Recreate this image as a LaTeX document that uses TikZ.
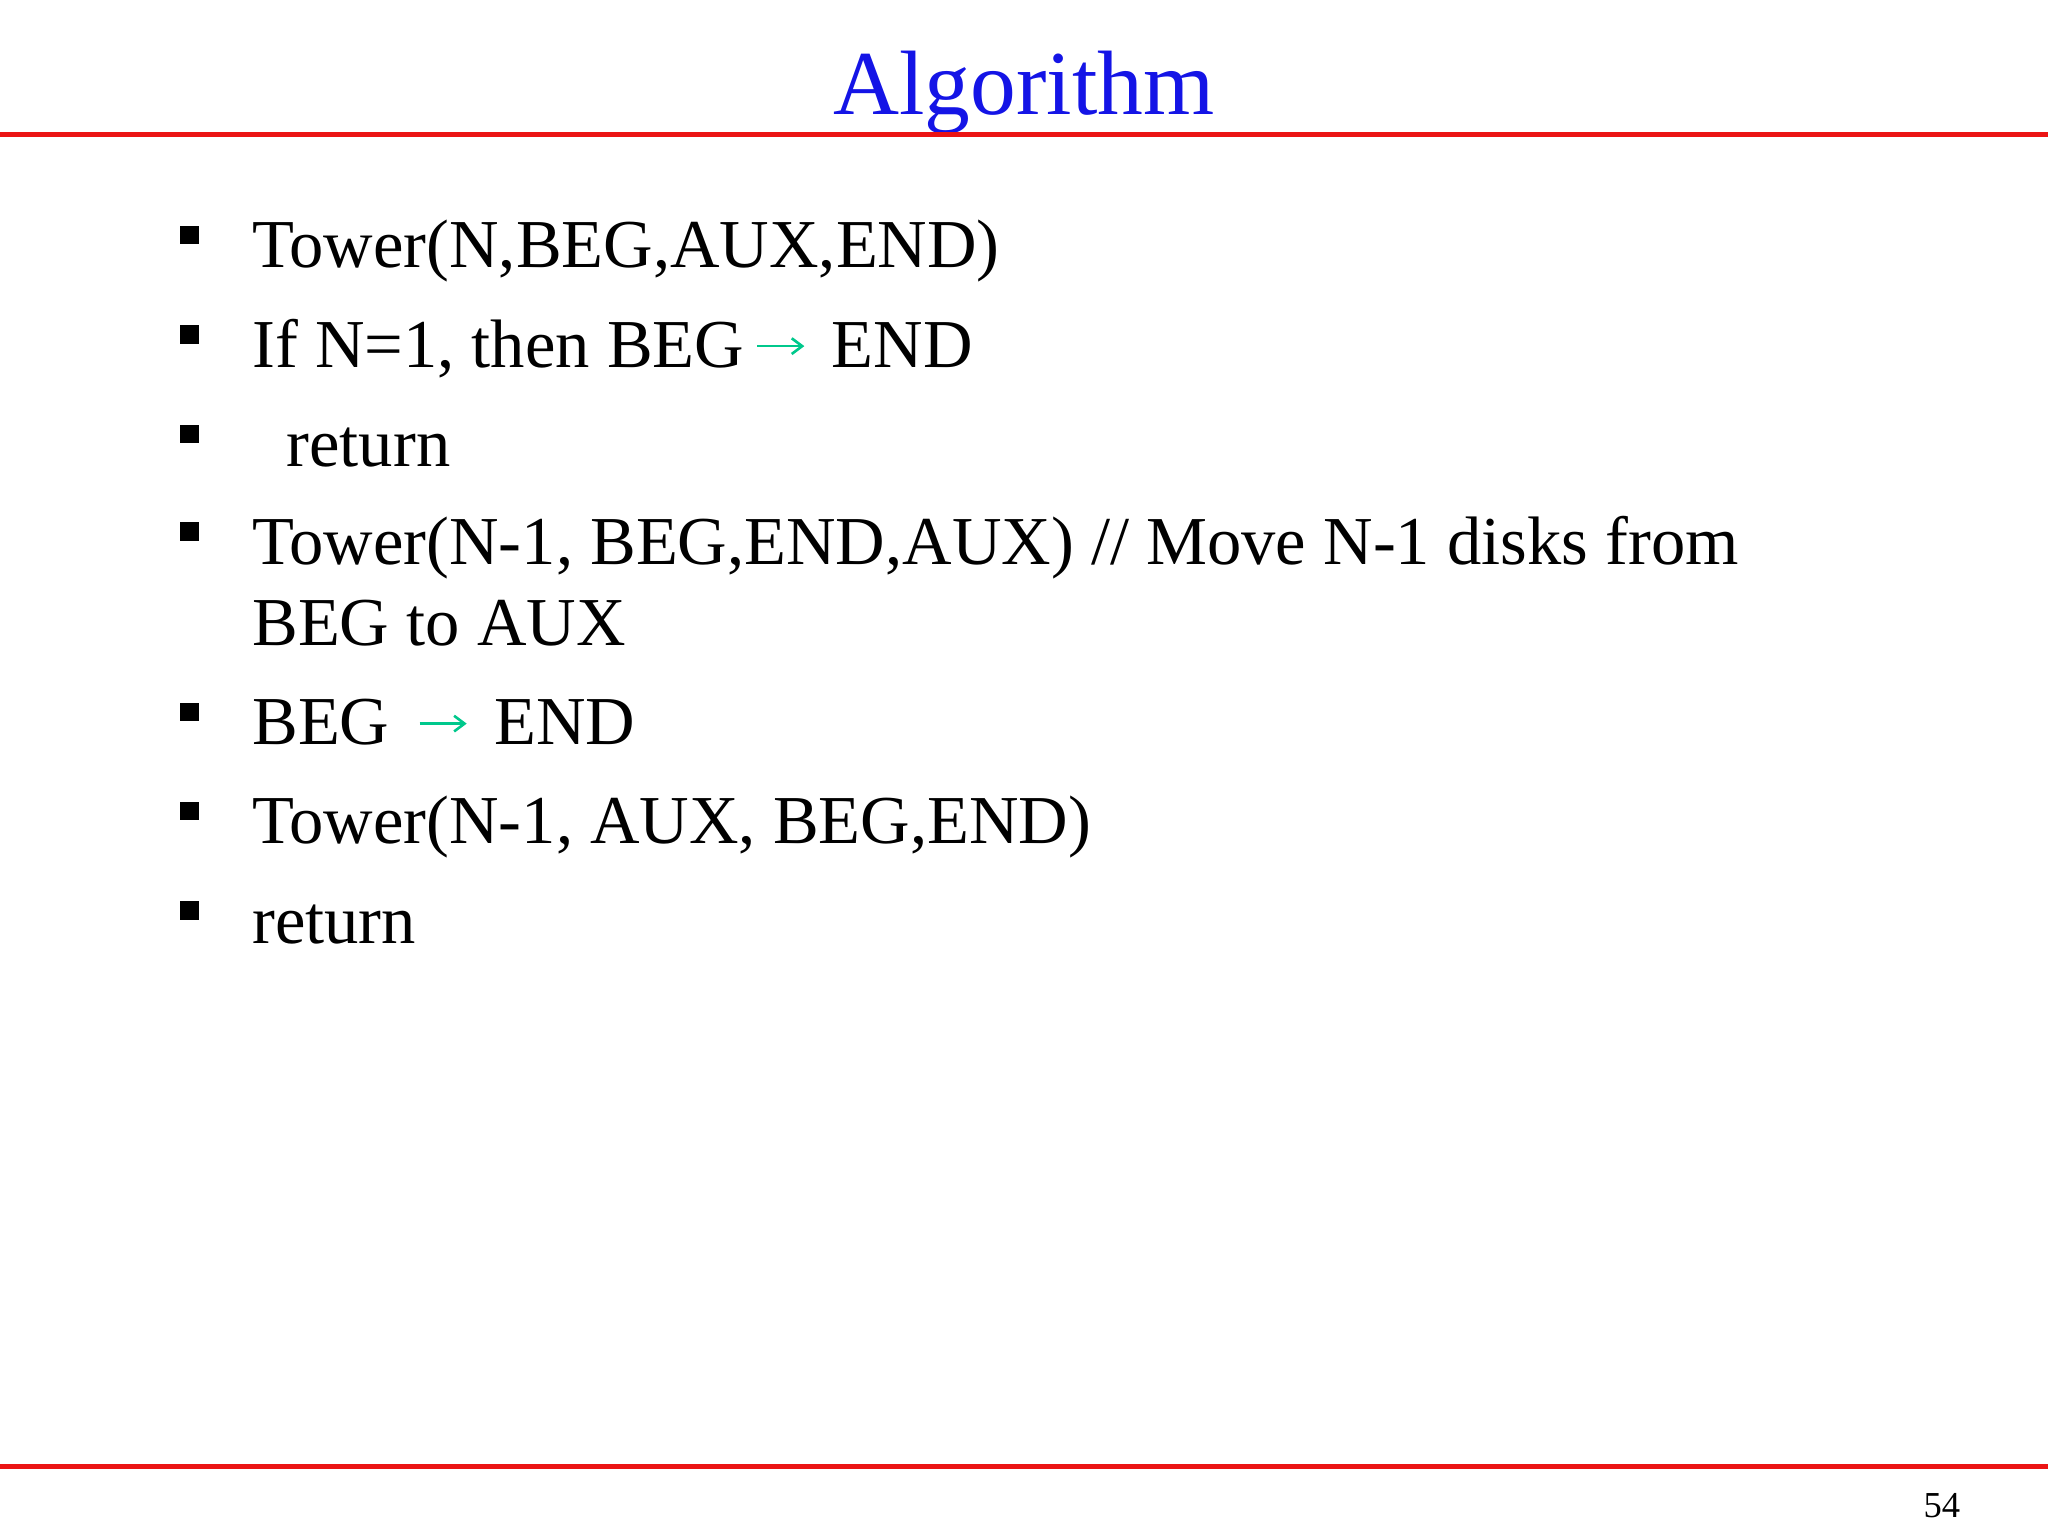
\documentclass[tikz,border=0pt]{standalone}
\usepackage{fontspec}
\setmainfont{Liberation Serif}
\definecolor{tblue}{RGB}{20,20,230}
\definecolor{tred}{RGB}{235,20,20}
\definecolor{tgreen}{RGB}{0,200,140}
\newcommand{\garr}{\tikz[baseline=0pt]{\path (0pt,0pt) (54pt,0pt);\draw[tgreen,line width=2pt,-{Straight Barb[length=8pt,width=12pt]}] (10pt,16pt) -- (46pt,16pt);}}
\usetikzlibrary{arrows.meta}
\begin{document}
\begin{tikzpicture}[x=1pt,y=-1pt,
  line/.style={anchor=base west,inner sep=0pt,font=\fontsize{52.5}{60}\selectfont},
  bul/.style={fill=black,minimum size=14pt,inner sep=0pt}]
\useasboundingbox (0,0) rectangle (1568,1176);
\node[anchor=base,inner sep=0pt,text=tblue,font=\fontsize{70}{80}\selectfont] (title) at (784,88) {Algorithm};
\draw[tred,line width=4pt] (0,103) -- (1568,103);
\draw[tred,line width=4pt] (0,1123) -- (1568,1123);
\node[anchor=base east,inner sep=0pt,font=\fontsize{28}{30}\selectfont] (pg) at (1501,1162) {54};
\foreach \y in {180,256,332,407,545,621,697} \node[bul] at (145,\y) {};
\node[line] (l1) at (193,205) {Tower(N,BEG,AUX,END)};
\node[line] (l2) at (193,281) {If N=1, then BEG\garr\ END};
\node[line] (l3) at (193,357) {\ \ return};
\node[line] (l4) at (193,432) {Tower(N-1, BEG,END,AUX) // Move N-1 disks from};
\node[line] (l4b) at (193,494) {BEG to AUX};
\node[line] (l5) at (193,570) {BEG \garr\ END};
\node[line] (l6) at (193,646) {Tower(N-1, AUX, BEG,END)};
\node[line] (l7) at (193,722) {return};
\end{tikzpicture}
\end{document}
